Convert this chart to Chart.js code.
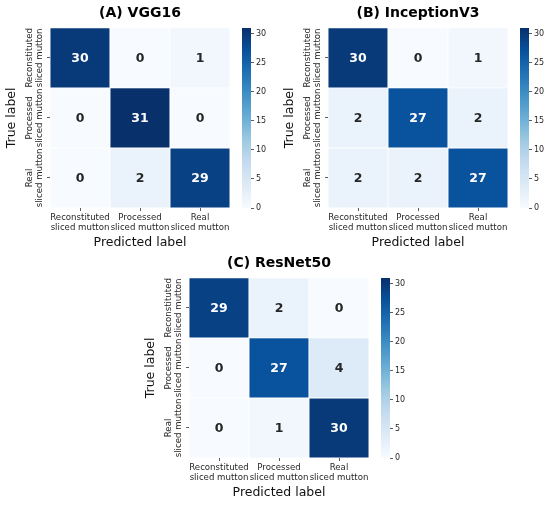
<!DOCTYPE html>
<html>
<head>
<meta charset="utf-8">
<script src="https://cdn.jsdelivr.net/npm/chart.js@4.4.1/dist/chart.umd.min.js"></script>
<style>
  html, body { margin: 0; padding: 0; background: #ffffff; }
  #page { position: relative; width: 550px; height: 506px; background: #ffffff; overflow: hidden; }
  canvas { position: absolute; }
</style>
</head>
<body>
<div id="page">
  <canvas id="hmA" width="232" height="250" style="left:0px;top:0px;width:232px;height:250px;"></canvas>
  <canvas id="cbA" width="36" height="250" style="left:236px;top:0px;width:36px;height:250px;"></canvas>
  <canvas id="hmB" width="232" height="250" style="left:278px;top:0px;width:232px;height:250px;"></canvas>
  <canvas id="cbB" width="36" height="250" style="left:514px;top:0px;width:36px;height:250px;"></canvas>
  <canvas id="hmC" width="232" height="250" style="left:139px;top:250px;width:232px;height:250px;"></canvas>
  <canvas id="cbC" width="36" height="250" style="left:375px;top:250px;width:36px;height:250px;"></canvas>
</div>
<script>
// ---------------- data ----------------
const predictedLabels = [['Reconstituted', 'sliced mutton'], ['Processed', 'sliced mutton'], ['Real', 'sliced mutton']];
const trueLabels = [['Reconstituted', 'sliced mutton'], ['Processed', 'sliced mutton'], ['Real', 'sliced mutton']];
const panelTitles = ['(A) VGG16', '(B) InceptionV3', '(C) ResNet50'];
const vgg16 = [[30, 0, 1], [0, 31, 0], [0, 2, 29]];
const inceptionV3 = [[30, 0, 1], [2, 27, 2], [2, 2, 27]];
const resnet50 = [[29, 2, 0], [0, 27, 4], [0, 1, 30]];
const colorbarTicks = [0, 5, 10, 15, 20, 25, 30];
const colorMin = 0;
const colorMax = 31;

// ---------------- helpers ----------------
const FONT = "'DejaVu Sans', 'Liberation Sans', sans-serif";
Chart.defaults.font.family = FONT;
Chart.defaults.color = '#262626';
const TICK_SIZE = 8.6;

const BLUES = [[247,251,255],[222,235,247],[198,219,239],[158,202,225],[107,174,214],[66,146,198],[33,113,181],[8,81,156],[8,48,107]];
function bluesRGB(t) {
  t = Math.max(0, Math.min(1, t));
  const s = t * 8;
  const i = Math.min(7, Math.floor(s));
  const f = s - i;
  const a = BLUES[i], b = BLUES[i + 1];
  return [0, 1, 2].map(k => Math.round(a[k] + (b[k] - a[k]) * f));
}
function blues(v) {
  const c = bluesRGB((v - colorMin) / (colorMax - colorMin));
  return 'rgb(' + c.join(',') + ')';
}
function textColorFor(v) {
  const c = bluesRGB((v - colorMin) / (colorMax - colorMin)).map(x => {
    x /= 255;
    return x <= 0.03928 ? x / 12.92 : Math.pow((x + 0.055) / 1.055, 2.4);
  });
  const lum = 0.2126 * c[0] + 0.7152 * c[1] + 0.0722 * c[2];
  return lum > 0.408 ? 'rgb(38,38,38)' : '#ffffff';
}

const tickGrid = { display: true, drawOnChartArea: false, drawTicks: true, tickLength: 3, color: '#333333', lineWidth: 0.8 };

function makeHeatmap(canvasId, title, matrix) {
  const annotate = {
    id: 'annotate',
    afterDatasetsDraw(chart) {
      const ctx = chart.ctx;
      ctx.save();
      ctx.font = 'bold 12.5px ' + FONT;
      ctx.textAlign = 'center';
      ctx.textBaseline = 'middle';
      chart.data.datasets.forEach((ds, r) => {
        const meta = chart.getDatasetMeta(r);
        meta.data.forEach((el, c) => {
          const v = matrix[r][c];
          const p = el.getCenterPoint();
          ctx.fillStyle = textColorFor(v);
          ctx.fillText(String(v), p.x, p.y + 0.5);
        });
      });
      ctx.restore();
    },
    afterDraw(chart) {
      const s = chart.scales.y;
      const ctx = chart.ctx;
      const size = TICK_SIZE, lh = size * 1.15;
      ctx.save();
      ctx.font = size + 'px ' + FONT;
      ctx.fillStyle = '#262626';
      ctx.textAlign = 'center';
      ctx.textBaseline = 'middle';
      s.ticks.forEach((t, i) => {
        const lines = trueLabels[i];
        const y = s.getPixelForValue(t.value);
        const cx = s.right - 3 - 2 - lines.length * lh / 2;
        ctx.save();
        ctx.translate(cx, y);
        ctx.rotate(-Math.PI / 2);
        lines.forEach((ln, j) => ctx.fillText(ln, 0, (j - (lines.length - 1) / 2) * lh));
        ctx.restore();
      });
      ctx.restore();
    }
  };

  return new Chart(document.getElementById(canvasId), {
    type: 'bar',
    data: {
      labels: predictedLabels,
      datasets: matrix.map((row, r) => ({
        label: trueLabels[r].join(' '),
        data: row.map(() => [r, r + 1]),
        backgroundColor: row.map(v => blues(v)),
        borderColor: '#ffffff',
        borderWidth: 0.8,
        borderSkipped: false,
        grouped: false,
        barPercentage: 1,
        categoryPercentage: 1
      }))
    },
    options: {
      responsive: false,
      animation: false,
      events: [],
      layout: { padding: { left: 0, right: 2, top: 0, bottom: 0 } },
      plugins: {
        legend: { display: false },
        tooltip: { enabled: false },
        title: {
          display: true, text: title, fullSize: false, color: '#000000',
          font: { size: 14, weight: 'bold', family: FONT },
          padding: { top: 5, bottom: 6 }
        }
      },
      scales: {
        x: {
          type: 'category',
          offset: true,
          grid: Object.assign({}, tickGrid, { offset: false }),
          border: { display: false },
          ticks: { font: { size: TICK_SIZE, lineHeight: 1.15 }, color: '#262626', maxRotation: 0, minRotation: 0, autoSkip: false, padding: 2 },
          title: { display: true, text: 'Predicted label', color: '#111111', font: { size: 12.5 }, padding: { top: 4, bottom: 0 } },
          afterFit: s => { s.height = 42; }
        },
        y: {
          type: 'linear',
          min: 0, max: 3, reverse: true,
          afterBuildTicks: s => { s.ticks = trueLabels.map((_, i) => ({ value: i + 0.5 })); },
          grid: tickGrid,
          border: { display: false },
          ticks: { display: false },
          title: { display: true, text: 'True label', color: '#111111', font: { size: 12.5 }, padding: { top: 4, bottom: 0 } },
          afterFit: s => { s.width = 50; }
        }
      }
    },
    plugins: [annotate]
  });
}

function makeColorbar(canvasId) {
  return new Chart(document.getElementById(canvasId), {
    type: 'bar',
    data: {
      labels: [''],
      datasets: [{
        data: [[colorMin, colorMax]],
        backgroundColor: (c) => {
          const ca = c.chart.chartArea;
          if (!ca) return blues(colorMax / 2);
          const g = c.chart.ctx.createLinearGradient(0, ca.bottom, 0, ca.top);
          BLUES.forEach((rgb, i) => g.addColorStop(i / 8, 'rgb(' + rgb.join(',') + ')'));
          return g;
        },
        borderWidth: 0,
        barPercentage: 1,
        categoryPercentage: 1
      }]
    },
    options: {
      responsive: false,
      animation: false,
      events: [],
      layout: { padding: { left: 6, right: 0, top: 28, bottom: 42 } },
      plugins: { legend: { display: false }, tooltip: { enabled: false } },
      scales: {
        x: { display: false },
        y: {
          position: 'right',
          min: colorMin, max: colorMax,
          afterBuildTicks: s => { s.ticks = colorbarTicks.map(v => ({ value: v })); },
          grid: tickGrid,
          border: { display: false },
          ticks: { font: { size: 8 }, color: '#262626', padding: 2 },
          afterFit: s => { s.width = 21; }
        }
      }
    }
  });
}

makeHeatmap('hmA', panelTitles[0], vgg16);
makeColorbar('cbA');
makeHeatmap('hmB', panelTitles[1], inceptionV3);
makeColorbar('cbB');
makeHeatmap('hmC', panelTitles[2], resnet50);
makeColorbar('cbC');
</script>
</body>
</html>
